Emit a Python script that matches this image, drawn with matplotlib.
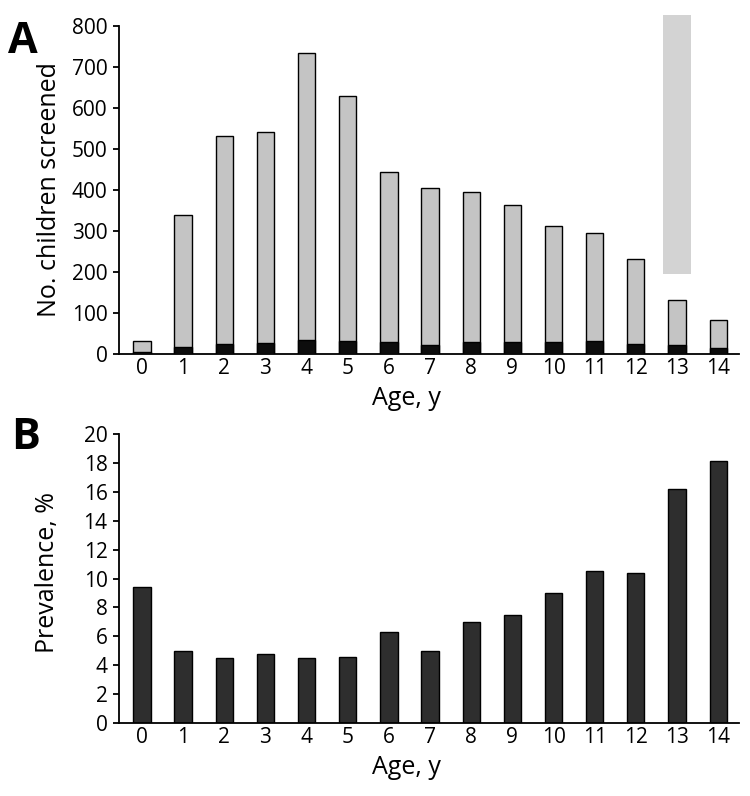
import matplotlib
matplotlib.use('Agg')
import matplotlib.pyplot as plt

plt.rcParams['font.family'] = ['Open Sans', 'DejaVu Sans']

# Data
ages = list(range(15))
screened = [32, 339, 532, 541, 735, 628, 444, 405, 395, 362, 312, 295, 232, 130, 82]
positive = [3, 17, 24, 26, 33, 30, 28, 21, 28, 28, 28, 32, 24, 21, 15]
prevalence = [9.4, 5.0, 4.5, 4.8, 4.5, 4.6, 6.3, 5.0, 7.0, 7.5, 9.0, 10.5, 10.4, 16.2, 18.1]

fig = plt.figure(figsize=(7.5, 7.96), dpi=100)
ax_a = fig.add_axes([0.159, 0.5557, 0.826, 0.4117])
ax_b = fig.add_axes([0.159, 0.0913, 0.826, 0.3638])

bar_w = 0.42

# Panel A: total screened with positives at the bottom
ax_a.bar(ages, screened, width=bar_w, color='#c4c4c4', edgecolor='black', linewidth=1.0, zorder=2)
ax_a.bar(ages, positive, width=bar_w, color='#0d0d0d', edgecolor='black', linewidth=1.0, zorder=3)
# light gray block over age 13
ax_a.bar([13], [632], bottom=195, width=0.67, color='#d3d3d3', linewidth=0, clip_on=False, zorder=1)

ax_a.set_ylim(0, 800)
ax_a.set_yticks(range(0, 801, 100))
ax_a.set_ylabel('No. children screened', fontsize=18)
ax_a.yaxis.set_label_coords(-0.0925, 0.50)

# Panel B: prevalence
ax_b.bar(ages, prevalence, width=bar_w, color='#2e2e2e', edgecolor='black', linewidth=1.0)
ax_b.set_ylim(0, 20)
ax_b.set_yticks(range(0, 21, 2))
ax_b.set_ylabel('Prevalence, %', fontsize=18)
ax_b.yaxis.set_label_coords(-0.0957, 0.52)

for ax in (ax_a, ax_b):
    ax.set_xlim(-0.55, 14.5)
    ax.set_xticks(ages)
    ax.set_xticklabels([str(a) for a in ages])
    ax.spines['top'].set_visible(False)
    ax.spines['right'].set_visible(False)
    ax.spines['left'].set_linewidth(1.3)
    ax.spines['bottom'].set_linewidth(1.3)
    ax.tick_params(axis='x', length=0, pad=3, labelsize=15)
    ax.tick_params(axis='y', length=4.5, width=1.3, pad=4, labelsize=15)
    ax.set_xlabel('Age, y', fontsize=18)

ax_a.xaxis.set_label_coords(0.464, -0.098)
ax_b.xaxis.set_label_coords(0.464, -0.108)

fig.text(0.010, 0.975, 'A', fontsize=31, fontweight='bold', va='top', ha='left')
fig.text(0.015, 0.478, 'B', fontsize=31, fontweight='bold', va='top', ha='left')

fig.savefig('out.png', dpi=100)
